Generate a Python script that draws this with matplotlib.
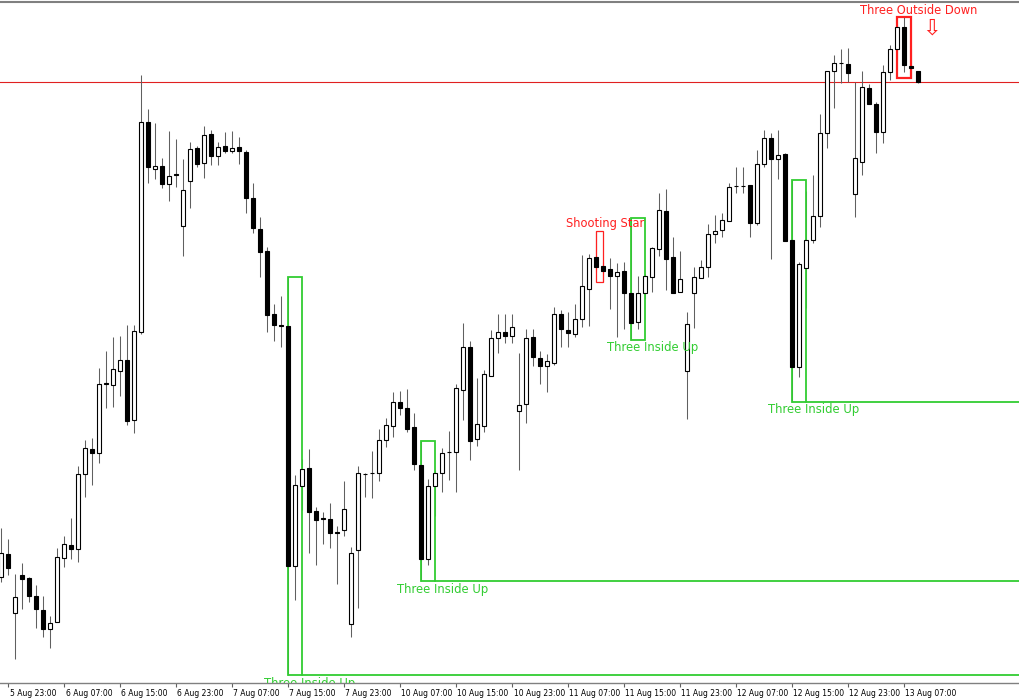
import numpy as np
import matplotlib
matplotlib.use("Agg")
import matplotlib.pyplot as plt
from matplotlib.patches import Rectangle
import matplotlib.transforms as mtrans

# hourly bars, levels (pixels from the top of the picture)
SCREEN = 700
opens_px = [577, 554, 613, 575, 578, 596, 610, 629, 622, 558,
            545, 549, 474, 449, 453, 383, 385, 371, 360, 420,
            332, 122, 169, 166, 184, 174, 226, 181, 148, 163,
            134, 156, 146, 151, 147, 152, 198, 229, 251, 314,
            325, 326, 566, 486, 468, 511, 518, 519, 532, 530,
            624, 550, 474, 473, 473, 440, 426, 402, 408, 427,
            465, 559, 486, 473, 452, 452, 390, 347, 439, 426,
            376, 338, 332, 336, 411, 404, 337, 358, 366, 363,
            314, 330, 334, 319, 289, 257, 266, 269, 276, 271,
            293, 322, 293, 277, 249, 211, 257, 292, 371, 293,
            278, 267, 234, 230, 221, 186, 186, 185, 223, 164,
            138, 159, 154, 240, 367, 268, 240, 216, 133, 71,
            63, 64, 194, 162, 88, 104, 132, 72, 49, 27,
            66, 71]
highs_px = [528, 539, 574, 563, 577, 585, 596, 616, 548, 536,
            518, 466, 440, 438, 368, 351, 337, 336, 325, 325,
            75, 109, 123, 158, 131, 139, 159, 142, 146, 126,
            130, 142, 132, 131, 137, 150, 183, 217, 247, 304,
            296, 277, 475, 459, 449, 507, 512, 503, 526, 481,
            547, 466, 473, 451, 429, 418, 392, 391, 389, 413,
            441, 479, 470, 448, 431, 384, 323, 341, 378, 370,
            330, 314, 314, 314, 353, 329, 329, 351, 354, 307,
            310, 312, 304, 255, 254, 231, 262, 258, 263, 262,
            218, 276, 274, 247, 193, 189, 237, 251, 312, 267,
            260, 224, 215, 213, 183, 167, 167, 185, 150, 130,
            133, 130, 153, 180, 262, 191, 175, 114, 71, 55,
            49, 48, 82, 71, 84, 102, 65, 45, 24, 17,
            49, 71]
lows_px = [582, 575, 659, 609, 602, 628, 637, 648, 622, 567,
           559, 562, 497, 485, 463, 408, 407, 396, 425, 433,
           334, 183, 179, 188, 201, 187, 256, 208, 167, 178,
           165, 165, 153, 153, 164, 213, 233, 277, 332, 341,
           347, 675, 600, 510, 553, 565, 544, 548, 584, 536,
           637, 608, 497, 498, 481, 447, 437, 415, 432, 470,
           581, 565, 516, 492, 480, 492, 420, 460, 446, 432,
           376, 353, 343, 343, 470, 423, 366, 384, 392, 365,
           347, 347, 337, 327, 326, 272, 282, 309, 337, 329,
           340, 329, 299, 292, 256, 290, 293, 292, 419, 328,
           278, 277, 243, 237, 221, 193, 193, 237, 225, 167,
           259, 179, 241, 402, 377, 308, 243, 227, 148, 108,
           83, 82, 217, 175, 104, 153, 143, 80, 60, 72,
           78, 83]
closes_px = [553, 568, 597, 579, 596, 609, 629, 623, 557, 544,
             549, 474, 448, 453, 384, 384, 369, 360, 421, 331,
             122, 167, 166, 184, 176, 175, 190, 149, 164, 135,
             156, 147, 151, 148, 151, 198, 228, 252, 315, 325,
             326, 566, 485, 469, 512, 520, 519, 533, 533, 509,
             553, 473, 474, 473, 440, 425, 402, 408, 429, 464,
             559, 486, 473, 453, 452, 388, 347, 441, 424, 374,
             338, 332, 336, 327, 405, 338, 357, 366, 361, 314,
             329, 333, 319, 286, 258, 267, 271, 276, 272, 293,
             323, 293, 276, 248, 210, 259, 293, 279, 324, 277,
             267, 234, 231, 220, 187, 186, 186, 223, 164, 138,
             159, 155, 241, 367, 264, 240, 216, 133, 71, 63,
             63, 73, 158, 87, 104, 132, 72, 49, 27, 65,
             68, 82]

tick_labels = ["5 Aug 23:00", "6 Aug 07:00", "6 Aug 15:00", "6 Aug 23:00",
               "7 Aug 07:00", "7 Aug 15:00", "7 Aug 23:00", "10 Aug 07:00",
               "10 Aug 15:00", "10 Aug 23:00", "11 Aug 07:00", "11 Aug 15:00",
               "11 Aug 23:00", "12 Aug 07:00", "12 Aug 15:00", "12 Aug 23:00",
               "13 Aug 07:00"]

# candle patterns found: name, first bar, last bar, bullish?
pattern_names = ["Three Inside Up", "Three Inside Up", "Shooting Star",
                 "Three Inside Up", "Three Inside Up", "Three Outside Down"]
pattern_start = [41, 60, 85, 90, 113, 128]
pattern_end = [43, 62, 86, 92, 115, 130]
pattern_bull = [True, True, False, True, True, False]

o = SCREEN - np.array(opens_px, dtype=float)
h = SCREEN - np.array(highs_px, dtype=float)
l = SCREEN - np.array(lows_px, dtype=float)
c = SCREEN - np.array(closes_px, dtype=float)
x = np.arange(len(o))

fig = plt.figure(figsize=(10.2, 7.0), dpi=100)
ax = fig.add_axes([0, 17 / 700, 1, 681 / 700])
ax.set_xlim(-1 / 7, 1019 / 7)
ax.set_ylim(17, 698)

green = "#32cd32"
red = "#ff2020"

# wicks then bodies
ax.vlines(x, l, h, color="#606060", linewidth=0.75, zorder=1.2)
up = c >= o
body_h = np.maximum(np.abs(c - o), 0.01)
ax.bar(x, body_h, bottom=np.minimum(o, c), width=0.62,
       color=np.where(up, "white", "black"), edgecolor="black",
       linewidth=0.8, zorder=3)

# current price line
ax.axhline(c[-1], color="#e02020", linewidth=0.8, zorder=1)

for name, a, b, bull in zip(pattern_names, pattern_start, pattern_end, pattern_bull):
    top = h[a:b + 1].max()
    bot = l[a:b + 1].min()
    col = green if bull else red
    lw = 1.3
    if name == "Shooting Star":
        lw = 0.9
    if name == "Three Outside Down":
        lw = 1.6
    ax.add_patch(Rectangle((a, bot), b - a, top - bot, fill=False,
                           edgecolor=col, linewidth=lw, zorder=2))
    if bull:
        # support line stays while no later bar trades below it
        if l[b + 1:].min() > bot:
            ax.plot([b, 150], [bot, bot], color=col, linewidth=lw, zorder=2)
        ax.text(b + 1.1, bot - 1.5, name, color=col, fontsize=8.4,
                ha="center", va="top", zorder=5, clip_on=True)
    else:
        off = 0.3 if name == "Shooting Star" else 1.1
        ax.text(b + off, top + 0.5, name, color=col, fontsize=8.3,
                ha="center", va="bottom", zorder=5)
        if name == "Three Outside Down":
            ax.text(b + 2.9, top - 12, "\u21e9", color=col, fontsize=16,
                    ha="center", va="center", zorder=5)

for s in ["left", "right"]:
    ax.spines[s].set_visible(False)
ax.spines["top"].set_color("#808080")
ax.spines["top"].set_linewidth(1.5)
ax.spines["bottom"].set_color("#808080")
ax.spines["bottom"].set_linewidth(1.0)
ax.set_yticks([])
ax.set_xticks(np.arange(len(tick_labels)) * 8 + 1)
ax.set_xticklabels(tick_labels, fontsize=5.5, ha="left")
ax.tick_params(axis="x", length=3, width=0.8, color="#606060", pad=1)
shift = mtrans.ScaledTranslation(1.5 / 100, 0, fig.dpi_scale_trans)
for lab in ax.get_xticklabels():
    lab.set_transform(lab.get_transform() + shift)

fig.savefig("out.png", dpi=100, facecolor="white")
